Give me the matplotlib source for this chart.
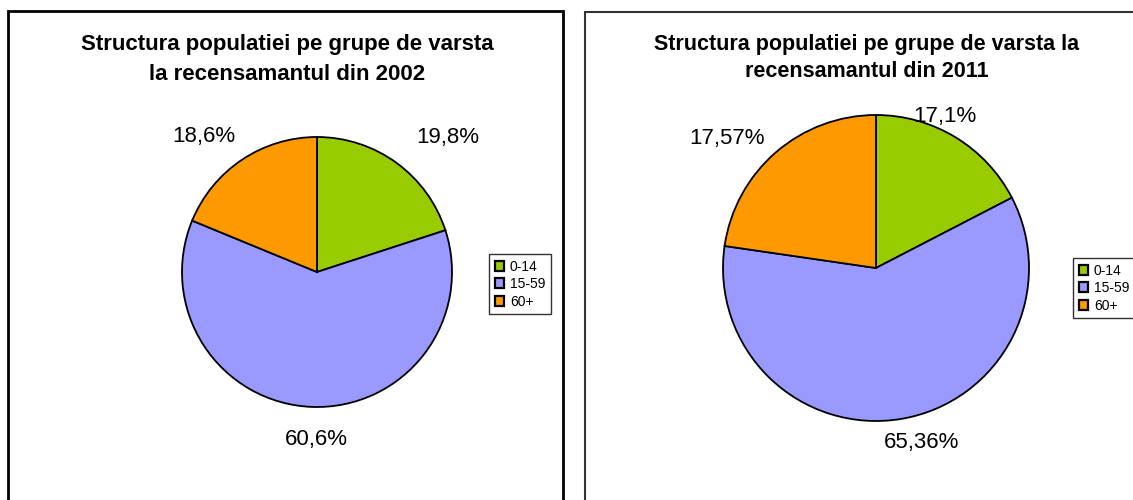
import numpy as np
import matplotlib
matplotlib.use('Agg')
import matplotlib.pyplot as plt
from matplotlib.patches import Rectangle

plt.rcParams['font.family'] = ['Liberation Sans', 'DejaVu Sans']

groups = ['0-14', '15-59', '60+']
colors = ['#99CC00', '#9999FF', '#FF9900']

shares_2002 = [19.8, 60.6, 18.6]
labels_2002 = ['19,8%', '60,6%', '18,6%']

# slices as drawn in the picture (labels are the printed ones)
shares_2011 = [17.4, 59.9, 22.7]
labels_2011 = ['17,1%', '65,36%', '17,57%']

W, H = 1133, 500
fig = plt.figure(figsize=(W / 100, H / 100), dpi=100)


def fbox(x, y, w, h):
    # pixel box (top-left origin) -> figure fraction
    return [x / W, 1 - (y + h) / H, w / W, h / H]


def frame(x0, y0, x1, y1, lw, col):
    b = fbox(x0, y0, x1 - x0, y1 - y0)
    fig.patches.append(Rectangle((b[0], b[1]), b[2], b[3], transform=fig.transFigure,
                                 fill=False, lw=lw, edgecolor=col))


def pie_panel(cx, cy, r, shares, labels, dist, dang, title, tx, ty, tsize, tls, leg_xy):
    half = 200
    ax = fig.add_axes(fbox(cx - half, cy - half, 2 * half, 2 * half))
    lim = half / r
    wedges, _ = ax.pie(shares, colors=colors, startangle=90, counterclock=False,
                       wedgeprops=dict(edgecolor='black', linewidth=1.3))
    ax.set_xlim(-lim, lim)
    ax.set_ylim(-lim, lim)
    ax.set_aspect('equal')
    ax.axis('off')
    total = sum(shares)
    start = 90.0
    for i, s in enumerate(shares):
        span = s / total * 360
        mid = np.radians(start - span / 2 + dang[i])
        start -= span
        ax.text(dist[i] * np.cos(mid), dist[i] * np.sin(mid), labels[i],
                ha='center', va='center', fontsize=16, clip_on=False)
    fig.text(tx / W, 1 - ty / H, title, ha='center', va='top', fontsize=tsize,
             fontweight='bold', linespacing=tls)
    leg = fig.legend(wedges, groups, loc='upper left',
                     bbox_to_anchor=(leg_xy[0] / W, 1 - leg_xy[1] / H),
                     fontsize=10, frameon=True, fancybox=False, edgecolor='black',
                     handlelength=0.7, handleheight=0.7, handletextpad=0.4,
                     labelspacing=0.25, borderpad=0.4, borderaxespad=0)
    leg.get_frame().set_linewidth(1.0)
    for p in leg.get_patches():
        p.set_linewidth(1.6)


frame(8, 11, 563, 510, 2, 'black')
frame(585, 12, 1150, 510, 1.5, '#333333')

pie_panel(317, 272, 135, shares_2002, labels_2002,
          [1.39, 1.24, 1.31], [-8, 2, 6],
          'Structura populatiei pe grupe de varsta\nla recensamantul din 2002',
          287, 34, 16, 1.55, (489, 254))

pie_panel(876, 268, 153, shares_2011, labels_2011,
          [1.09, 1.18, 1.29], [7, 5, 8],
          'Structura populatiei pe grupe de varsta la\nrecensamantul din 2011',
          867, 34, 15.5, 1.4, (1073, 258))

fig.savefig('out.png', dpi=100)
